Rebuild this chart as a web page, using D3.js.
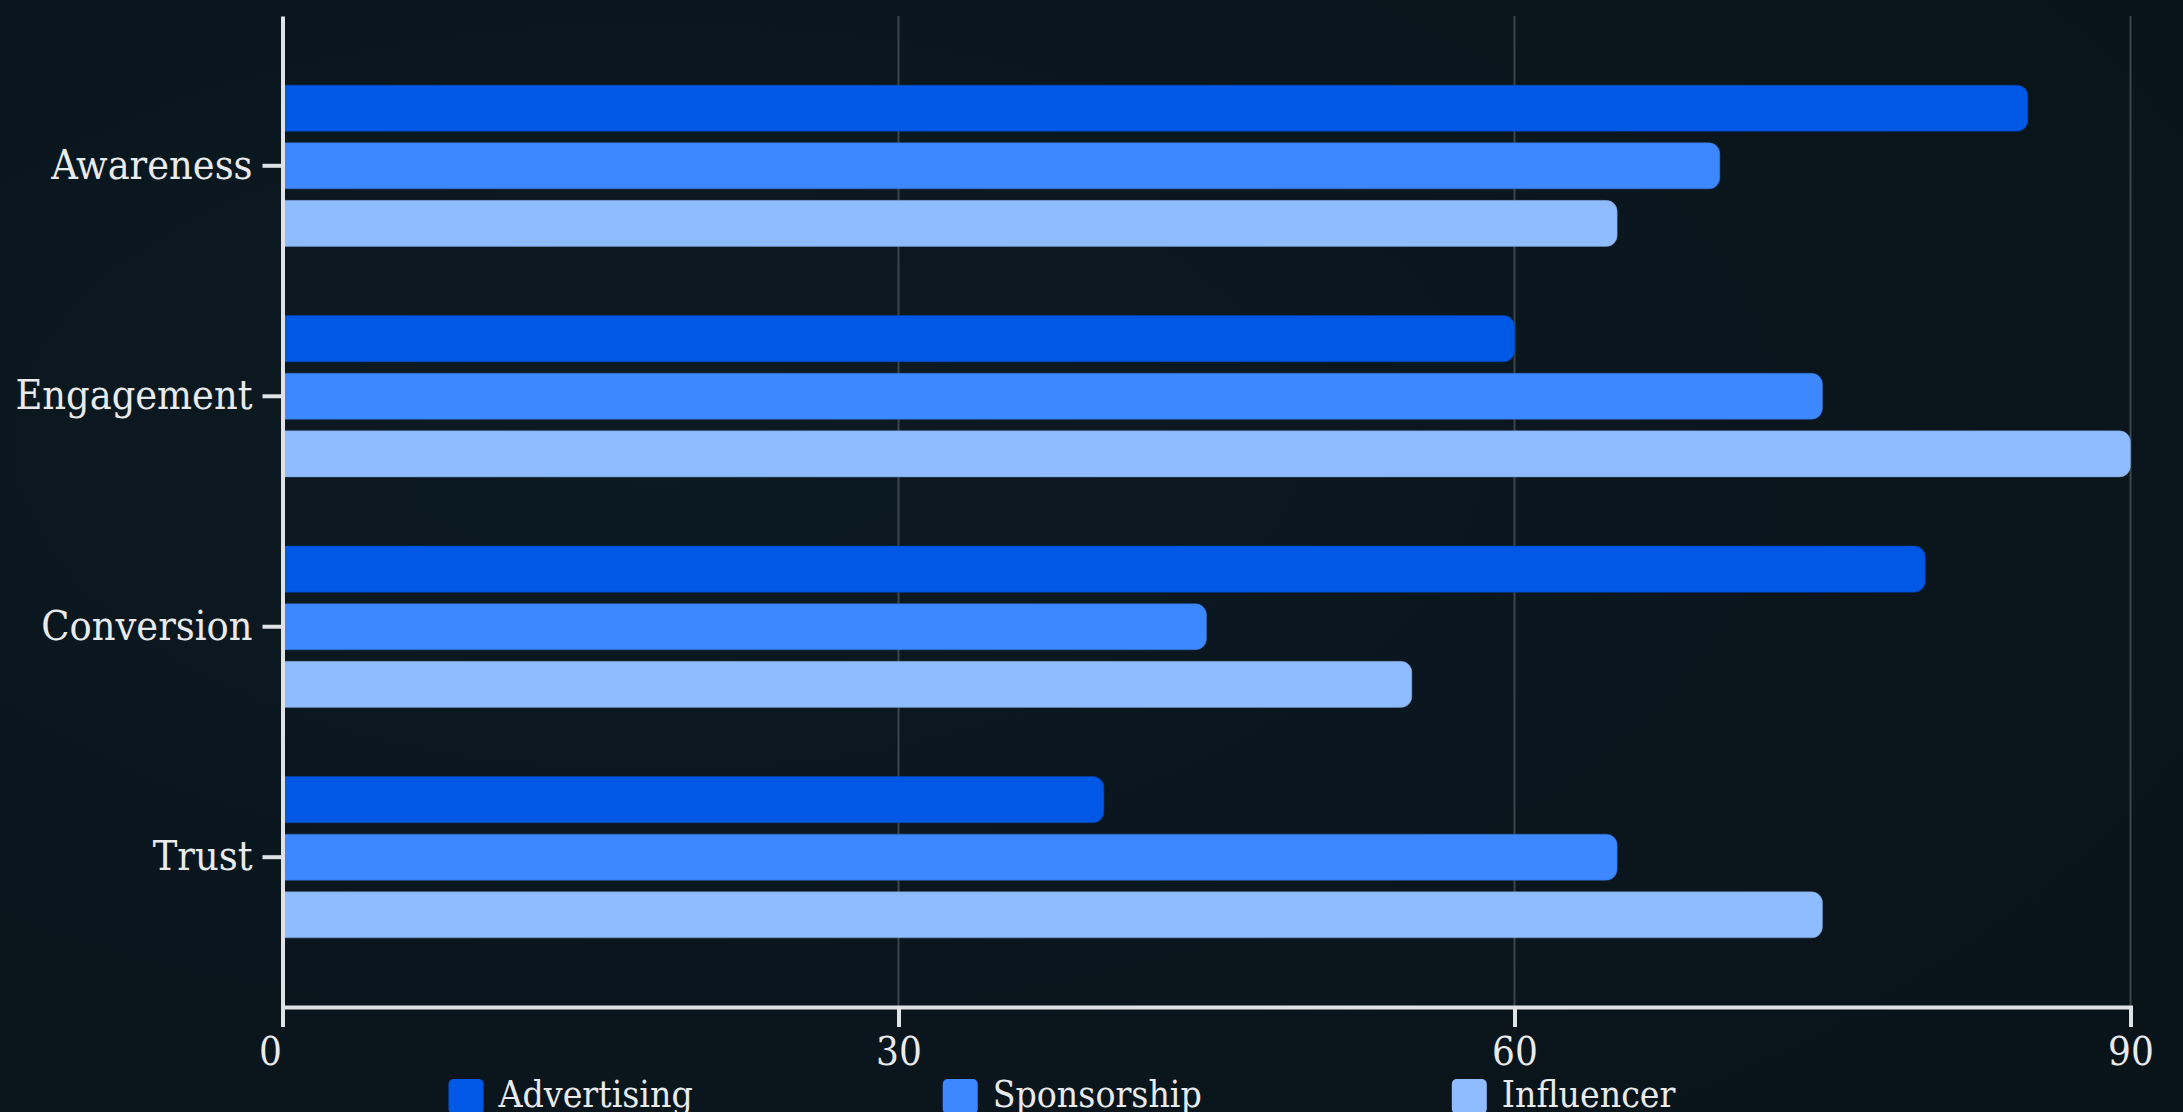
<!DOCTYPE html>
<html>
<head>
<meta charset="utf-8">
<script src="https://cdn.jsdelivr.net/npm/d3@7"></script>
<style>
  html, body { margin: 0; padding: 0; background: #0a151b; overflow: hidden; }
  svg { display: block; }
  text { font-family: "DejaVu Serif Condensed", "DejaVu Serif", serif; font-stretch: condensed; }
</style>
</head>
<body>
<div id="chart"></div>
<script>
const categories = ['Awareness', 'Engagement', 'Conversion', 'Trust'];
const seriesNames = ['Advertising', 'Sponsorship', 'Influencer'];
const advertising = [85, 60, 80, 40];
const sponsorship = [70, 75, 45, 65];
const influencer  = [65, 90, 55, 75];
const xTicks = [0, 30, 60, 90];
const colors = ['#0058e6', '#3d87ff', '#8fbbff'];

const seriesValues = [advertising, sponsorship, influencer];
const rows = categories.map((c, i) => ({
  category: c,
  values: seriesNames.map((s, j) => ({ series: s, value: seriesValues[j][i] }))
}));

const W = 2183, H = 1112;
const margin = { top: 16, right: 52.5, bottom: 105, left: 282.5 };
const iW = W - margin.left - margin.right;
const iH = H - margin.top - margin.bottom;

const svg = d3.select('#chart')
  .append('svg')
  .attr('width', W).attr('height', H);

// Background
const defs = svg.append('defs');
const grad = defs.append('radialGradient').attr('id', 'bg')
  .attr('cx', '30%').attr('cy', '40%').attr('r', '80%');
grad.append('stop').attr('offset', '0%').attr('stop-color', '#0c1a22');
grad.append('stop').attr('offset', '100%').attr('stop-color', '#09131a');
svg.append('rect').attr('width', W).attr('height', H).attr('fill', 'url(#bg)');

const g = svg.append('g').attr('transform', `translate(${margin.left},${margin.top})`);

const x = d3.scaleLinear().domain([0, 90]).range([0, iW]);
const y0 = d3.scaleBand().domain(categories).range([0, iH]).paddingInner(0.3).paddingOuter(0.3);
const y1 = d3.scaleBand().domain(seriesNames).range([0, y0.bandwidth()]).paddingInner(0.2);
const color = d3.scaleOrdinal().domain(seriesNames).range(colors);

// Grid lines
g.append('g')
  .selectAll('line')
  .data(xTicks.slice(1))
  .join('line')
  .attr('x1', d => x(d)).attr('x2', d => x(d))
  .attr('y1', 0).attr('y2', iH)
  .attr('stroke', '#3a444a').attr('stroke-width', 2);

// Bars, rounded on the right end only
const r = 11;
function barPath(w, h) {
  const rr = Math.min(r, w, h / 2);
  return `M0,0H${w - rr}A${rr},${rr} 0 0 1 ${w},${rr}V${h - rr}A${rr},${rr} 0 0 1 ${w - rr},${h}H0Z`;
}

g.selectAll('g.group')
  .data(rows)
  .join('g')
  .attr('class', 'group')
  .attr('transform', d => `translate(0,${y0(d.category)})`)
  .selectAll('path')
  .data(d => d.values)
  .join('path')
  .attr('transform', d => `translate(${x(0)},${y1(d.series)})`)
  .attr('d', d => barPath(x(d.value) - x(0), y1.bandwidth()))
  .attr('fill', d => color(d.series))
  .attr('stroke', d => d3.color(color(d.series)).darker(0.6))
  .attr('stroke-opacity', 0.5)
  .attr('stroke-width', 1);

// Axes
const axisColor = '#dfe3e6';
const textColor = '#e8eaec';

g.append('g')
  .call(d3.axisLeft(y0).tickSize(20).tickSizeOuter(0).tickPadding(10))
  .call(ax => ax.select('.domain').attr('stroke', axisColor).attr('stroke-width', 4))
  .call(ax => ax.selectAll('line').attr('stroke', axisColor).attr('stroke-width', 4))
  .call(ax => ax.selectAll('text').attr('font-size', '41px').attr('fill', textColor)
    .attr('font-family', null));

g.append('g')
  .attr('transform', `translate(0,${iH})`)
  .call(d3.axisBottom(x).tickValues(xTicks).tickSize(20).tickSizeOuter(20).tickPadding(10))
  .call(ax => ax.select('.domain').attr('stroke', axisColor).attr('stroke-width', 4))
  .call(ax => ax.selectAll('line').attr('stroke', axisColor).attr('stroke-width', 4))
  .call(ax => ax.selectAll('text').attr('font-size', '40px').attr('fill', textColor)
    .attr('font-family', null))
  .call(ax => ax.selectAll('.tick text').filter(d => d === 0)
    .attr('text-anchor', 'end').attr('dx', '-1'));

// Legend, items laid out one after another by text width
const legend = svg.append('g')
  .attr('transform', `translate(448.5,${H - 33})`);

const item = legend.selectAll('g')
  .data(seriesNames)
  .join('g');

item.append('rect')
  .attr('width', 35).attr('height', 35).attr('rx', 5)
  .attr('fill', d => color(d));

item.append('text')
  .attr('x', 50).attr('y', 28)
  .attr('font-size', '37px').attr('fill', textColor)
  .text(d => d);

let offset = 0;
item.each(function () {
  const el = d3.select(this);
  el.attr('transform', `translate(${offset},0)`);
  offset += 50 + el.select('text').node().getComputedTextLength() + 250;
});
</script>
</body>
</html>
